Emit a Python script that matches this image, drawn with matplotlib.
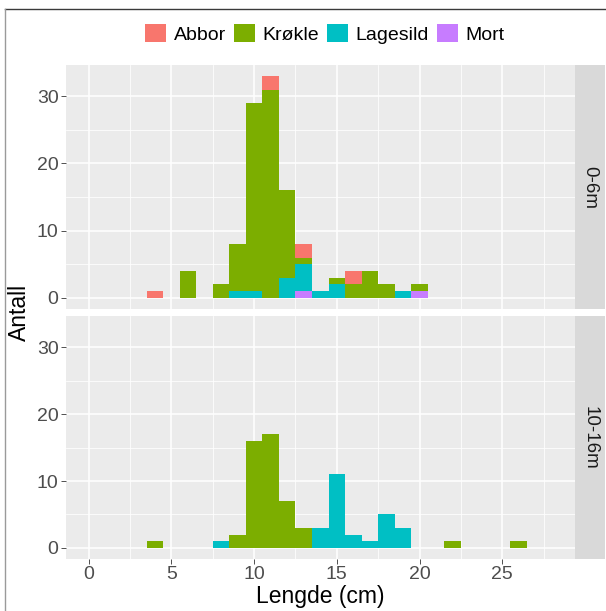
import numpy as np
import matplotlib
matplotlib.use("Agg")
import matplotlib.pyplot as plt
from matplotlib.patches import Patch
from matplotlib.lines import Line2D

plt.rcParams['font.family'] = ['Liberation Sans', 'DejaVu Sans']

# bin centres (cm), binwidth 1
lengths = [3, 4, 5, 6, 7, 8, 9, 10, 11, 12, 13, 14, 15, 16, 17, 18, 19, 20, 21, 22, 23, 24, 25, 26]

species = ['Abbor', 'Krøkle', 'Lagesild', 'Mort']
colors = ['#F8766D', '#7CAE00', '#00BFC4', '#C77CFF']

depths = ['0-6m', '10-16m']

abbor_top = [0, 1, 0, 0, 0, 0, 0, 0, 2, 0, 2, 0, 0, 2, 0, 0, 0, 0, 0, 0, 0, 0, 0, 0]
krokle_top = [0, 0, 0, 4, 0, 2, 7, 28, 31, 13, 1, 0, 1, 2, 4, 2, 0, 1, 0, 0, 0, 0, 0, 0]
lagesild_top = [0, 0, 0, 0, 0, 0, 1, 1, 0, 3, 4, 1, 2, 0, 0, 0, 1, 0, 0, 0, 0, 0, 0, 0]
mort_top = [0, 0, 0, 0, 0, 0, 0, 0, 0, 0, 1, 0, 0, 0, 0, 0, 0, 1, 0, 0, 0, 0, 0, 0]

abbor_bot = [0] * 24
krokle_bot = [0, 1, 0, 0, 0, 0, 2, 16, 17, 7, 3, 0, 0, 0, 0, 0, 0, 0, 0, 1, 0, 0, 0, 1]
lagesild_bot = [0, 0, 0, 0, 0, 1, 0, 0, 0, 0, 0, 3, 11, 2, 1, 5, 3, 0, 0, 0, 0, 0, 0, 0]
mort_bot = [0] * 24

panels = [
    [abbor_top, krokle_top, lagesild_top, mort_top],
    [abbor_bot, krokle_bot, lagesild_bot, mort_bot],
]

W, H = 606, 611
fig = plt.figure(figsize=(W / 100, H / 100), dpi=100)


def fx(px):
    return px / W


def fy(py):
    return 1 - py / H


# screenshot frame
fig.add_artist(Line2D([fx(5), 1], [fy(8.5), fy(8.5)], color='#3a3a3a', lw=1.0, transform=fig.transFigure))
fig.add_artist(Line2D([fx(5), fx(5)], [fy(8.5), 0], color='#9a9a9a', lw=1.0, transform=fig.transFigure))

x0, x1 = 65.5, 575
strip_x1 = 605
rows = [(65, 309), (316, 559)]

x = np.array(lengths)
for r, (t, b) in enumerate(rows):
    ax = fig.add_axes([fx(x0), fy(b), fx(x1) - fx(x0), fy(t) - fy(b)])
    ax.set_facecolor('#EBEBEB')
    # stacked: Mort at bottom, Abbor on top
    base = np.zeros(len(lengths))
    for i in [3, 2, 1, 0]:
        vals = np.array(panels[r][i])
        ax.bar(x, vals, width=1.0, bottom=base, color=colors[i], linewidth=0, zorder=3)
        base = base + vals
    ax.set_xlim(-1.4, 29.4)
    ax.set_ylim(-1.65, 34.65)
    ax.set_xticks([0, 5, 10, 15, 20, 25])
    ax.set_xticks([2.5, 7.5, 12.5, 17.5, 22.5, 27.5], minor=True)
    ax.set_yticks([0, 10, 20, 30])
    ax.set_yticks([5, 15, 25], minor=True)
    ax.grid(which='major', color='white', lw=1.1, zorder=1)
    ax.grid(which='minor', color='white', lw=0.55, zorder=1)
    ax.set_axisbelow(True)
    for s in ax.spines.values():
        s.set_visible(False)
    ax.tick_params(which='minor', length=0)
    ax.tick_params(which='major', length=3.5, width=0.6, color='#333333',
                   labelsize=14, labelcolor='#4D4D4D', pad=1.5)
    if r == 0:
        ax.tick_params(axis='x', labelbottom=False, length=0)

    # facet strip
    sax = fig.add_axes([fx(x1), fy(b), fx(strip_x1) - fx(x1), fy(t) - fy(b)])
    sax.set_facecolor('#D9D9D9')
    sax.set_xticks([])
    sax.set_yticks([])
    for s in sax.spines.values():
        s.set_visible(False)
    sax.text(0.5, 0.5, depths[r], rotation=-90, ha='center', va='center',
             fontsize=13.5, color='#1A1A1A', transform=sax.transAxes)

fig.text(fx(19.5), fy(312), 'Antall', rotation=90, ha='center', va='center', fontsize=16.5, color='black')
fig.text(fx(320), fy(597), 'Lengde (cm)', ha='center', va='center', fontsize=16.5, color='black')

handles = [Patch(facecolor=c, edgecolor='none') for c in colors]
fig.legend(handles, species, loc='center', bbox_to_anchor=(fx(324.7), fy(34)), ncol=4,
           frameon=False, fontsize=14, handlelength=1.08, handleheight=1.0,
           handletextpad=0.4, columnspacing=0.4, borderpad=0, borderaxespad=0)

fig.savefig('out.png', dpi=100, facecolor='white')
